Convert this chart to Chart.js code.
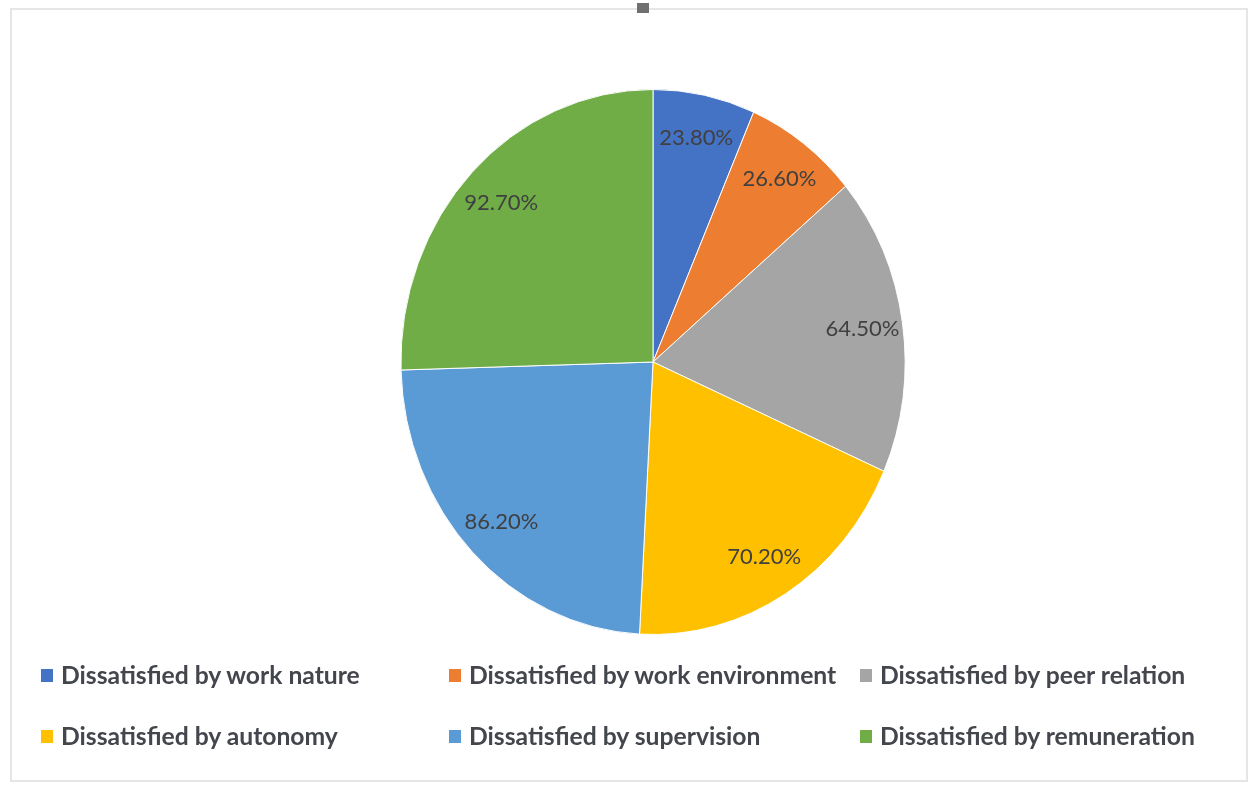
<!DOCTYPE html>
<html>
<head>
<meta charset="utf-8">
<script src="https://cdn.jsdelivr.net/npm/chart.js@4.4.1/dist/chart.umd.min.js"></script>
<style>
  html, body { margin: 0; padding: 0; background: #ffffff; }
  #wrap { position: relative; width: 1256px; height: 785px; overflow: hidden; background: #fff; }
  #frame { position: absolute; left: 10px; top: 8px; width: 1238px; height: 774px; border: 2px solid #e6e6e6; box-sizing: border-box; }
  #handle { position: absolute; left: 637px; top: 3px; width: 12px; height: 10px; background: #707070; }
  canvas { position: absolute; left: 0; top: 0; }
  .leg { position: absolute; font-family: Lato, "DejaVu Sans", sans-serif; font-weight: bold; font-size: 24.7px; color: #44464d; white-space: nowrap; line-height: 26px; }
  .leg .box { position: absolute; width: 12px; height: 13px; left: 0; top: 7px; }
  .leg .txt { position: absolute; left: 20px; top: 0; }
</style>
</head>
<body>
<div id="wrap">
  <div id="frame"></div>
  <div id="handle"></div>
  <canvas id="c" width="1256" height="785"></canvas>
  <div id="legend"></div>
</div>
<script>
const categories = [
  "Dissatisfied by work nature",
  "Dissatisfied by work environment",
  "Dissatisfied by peer relation",
  "Dissatisfied by autonomy",
  "Dissatisfied by supervision",
  "Dissatisfied by remuneration"
];
const values = [23.8, 26.6, 64.5, 70.2, 86.2, 92.7];
const valueLabels = ["23.80%", "26.60%", "64.50%", "70.20%", "86.20%", "92.70%"];
const colors = ["#4472C4", "#ED7D31", "#A5A5A5", "#FFC000", "#5B9BD5", "#70AD47"];

const SX = 0.925; // horizontal squash of the pie (reference is slightly oval)

const ovalPlugin = {
  id: 'oval',
  beforeDatasetsDraw(chart) {
    const arc = chart.getDatasetMeta(0).data[0];
    const ctx = chart.ctx;
    ctx.save();
    ctx.translate(arc.x, arc.y);
    ctx.scale(SX, 1);
    ctx.translate(-arc.x, -arc.y);
  },
  afterDatasetsDraw(chart) {
    chart.ctx.restore();
  }
};

const labelPlugin = {
  id: 'sliceLabels',
  afterDraw(chart) {
    const ctx = chart.ctx;
    const meta = chart.getDatasetMeta(0);
    ctx.save();
    ctx.font = '22px Lato, "DejaVu Sans", sans-serif';
    ctx.fillStyle = '#404040';
    ctx.textAlign = 'center';
    ctx.textBaseline = 'middle';
    meta.data.forEach((arc, i) => {
      const mid = (arc.startAngle + arc.endAngle) / 2;
      const r = arc.outerRadius * 0.84;
      const x = arc.x + Math.cos(mid) * r * SX;
      const y = arc.y + Math.sin(mid) * r;
      ctx.fillText(valueLabels[i], x, y);
    });
    ctx.restore();
  }
};

const chart = new Chart(document.getElementById('c'), {
  type: 'pie',
  data: {
    labels: categories,
    datasets: [{
      data: values,
      backgroundColor: colors,
      borderColor: '#ffffff',
      borderWidth: 1
    }]
  },
  options: {
    responsive: false,
    animation: false,
    layout: { padding: { top: 88, bottom: 149, left: 380, right: 330 } },
    plugins: {
      legend: { display: false },
      tooltip: { enabled: false }
    }
  },
  plugins: [ovalPlugin, labelPlugin]
});

// HTML legend built from the chart's own labels
const legendPos = [
  [41, 662], [449, 662], [860, 662],
  [41, 723], [449, 723], [860, 723]
];
const legendEl = document.getElementById('legend');
chart.data.labels.forEach((lab, i) => {
  const d = document.createElement('div');
  d.className = 'leg';
  d.style.left = legendPos[i][0] + 'px';
  d.style.top = legendPos[i][1] + 'px';
  const b = document.createElement('span');
  b.className = 'box';
  b.style.background = chart.data.datasets[0].backgroundColor[i];
  const t = document.createElement('span');
  t.className = 'txt';
  t.textContent = lab;
  d.appendChild(b); d.appendChild(t);
  legendEl.appendChild(d);
});
</script>
</body>
</html>
